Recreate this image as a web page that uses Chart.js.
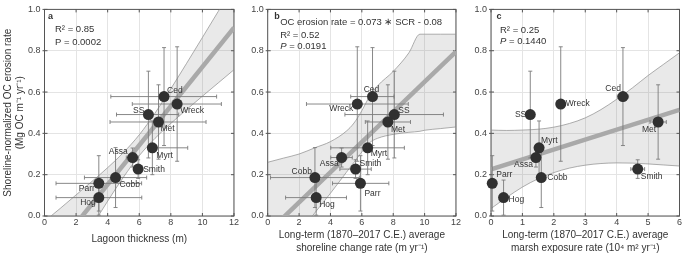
<!DOCTYPE html>
<html>
<head>
<meta charset="utf-8">
<script src="https://cdn.jsdelivr.net/npm/chart.js@4.4.0/dist/chart.umd.min.js"></script>
<style>
	body { margin: 0; background: #fff; }
	#wrap { position: relative; width: 685px; height: 255px; }
	canvas { position: absolute; top: 0; }
</style>
</head>
<body>
<div id="wrap">
	<canvas id="cntx_a" width="240" height="255" style="left:0px"></canvas>
	<canvas id="cntx_b" width="222" height="255" style="left:240px"></canvas>
	<canvas id="cntx_c" width="223" height="255" style="left:462px"></canvas>
</div>
<script>
// sites and shoreline-normalized OC erosion rate (same y in all panels)
const sites = ["Ced", "Wreck", "SS", "Met", "Myrt", "Assa", "Smith", "Cobb", "Parr", "Hog"];
const ocRate = [0.578, 0.542, 0.491, 0.455, 0.330, 0.283, 0.227, 0.186, 0.158, 0.089];
const ocErr = [0.237, 0.277, 0.210, 0.180, 0.130, 0.046, 0.045, 0.145, 0.134, 0.085];

// panel a: lagoon thickness
const lagoonThick = [7.57, 8.40, 6.58, 7.22, 6.83, 5.58, 5.93, 4.50, 3.44, 3.44];
const lagoonLo = [4.20, 5.56, 4.56, 4.15, 6.58, 5.18, 5.65, 2.53, 0.73, 0.73];
const lagoonHi = [10.90, 11.20, 8.50, 10.23, 9.07, 5.95, 6.20, 6.47, 6.15, 6.16];
const fitA_x = [0, 12];
const fitA_y = [-0.227, 0.912];
const bandA_x = [0, 1, 2, 3, 4, 5, 6, 7, 8, 9, 10, 11, 12];
const bandA_hi = [-0.026, 0.037, 0.102, 0.167, 0.234, 0.307, 0.393, 0.498, 0.616, 0.739, 0.864, 0.990, 1.116];
const bandA_lo = [-0.428, -0.301, -0.176, -0.051, 0.072, 0.188, 0.292, 0.376, 0.448, 0.515, 0.580, 0.644, 0.708];

// panel b: shoreline change rate
const shoreRate = [6.68, 5.71, 8.07, 7.66, 6.37, 4.71, 5.60, 3.01, 5.91, 3.09];
const shoreLo = [5.29, 2.47, 4.92, 6.22, 4.02, 4.02, 4.60, 0.18, 4.13, 1.14];
const shoreHi = [8.05, 8.96, 11.20, 9.10, 8.71, 5.39, 6.60, 5.84, 7.72, 5.02];
const fitB_x = [0, 12];
const fitB_y = [-0.08, 0.796];
const bandB_x = [0, 1, 2, 3, 4, 5, 5.5, 6, 6.5, 7, 8, 9, 9.7, 10, 11, 12];
const bandB_hi = [0.26, 0.28, 0.30, 0.33, 0.36, 0.41, 0.45, 0.51, 0.58, 0.63, 0.70, 0.79, 0.88, 0.88, 0.88, 0.88];
const bandB_lo = [-0.28, -0.18, -0.08, 0.015, 0.11, 0.21, 0.26, 0.31, 0.355, 0.376, 0.395, 0.405, 0.41, 0.415, 0.423, 0.431];

// panel c: marsh exposure rate
const marshRate = [4.20, 2.22, 1.25, 5.32, 1.53, 1.43, 4.67, 1.60, 0.04, 0.40];
const marshLo = [4.02, 2.22, 1.25, 5.06, 1.53, 1.43, 4.45, 1.60, 0.04, 0.40];
const marshHi = [4.38, 2.22, 1.25, 5.58, 1.53, 1.43, 4.89, 1.60, 0.04, 0.40];
const fitC_x = [0, 6];
const fitC_y = [0.226, 0.514];
const bandC_x = [0, 0.5, 1, 1.5, 2, 2.5, 3, 3.5, 4, 4.5, 5, 5.5, 6];
const bandC_hi = [0.416, 0.414, 0.416, 0.420, 0.430, 0.448, 0.475, 0.515, 0.565, 0.620, 0.680, 0.735, 0.790];
const bandC_lo = [0.036, 0.090, 0.140, 0.180, 0.210, 0.232, 0.246, 0.254, 0.257, 0.256, 0.252, 0.247, 0.242];

const FONT = "'Liberation Sans', Arial, sans-serif";
const TXT = "#333";

const zip = (xs, ys) => xs.map((v, i) => ({ x: v, y: ys[i] }));

// frame, inward ticks, error bars, site labels and text notes
const makeExtras = (p) => ({
	id: "extras_" + p.letter,
	beforeDatasetsDraw(chart) {
		const { ctx, chartArea: ca, scales } = chart;
		ctx.save();
		ctx.strokeStyle = "#555";
		ctx.lineWidth = 1;
		ctx.strokeRect(ca.left, ca.top, ca.right - ca.left, ca.bottom - ca.top);
		ctx.beginPath();
		scales.x.ticks.forEach((t) => {
			const px = scales.x.getPixelForValue(t.value);
			ctx.moveTo(px, ca.top); ctx.lineTo(px, ca.top + 3);
			ctx.moveTo(px, ca.bottom); ctx.lineTo(px, ca.bottom - 3);
		});
		scales.y.ticks.forEach((t) => {
			const py = scales.y.getPixelForValue(t.value);
			ctx.moveTo(ca.left - 2, py); ctx.lineTo(ca.left + 3, py);
			ctx.moveTo(ca.right, py); ctx.lineTo(ca.right - 3, py);
		});
		ctx.stroke();
		ctx.restore();
	},
	beforeDatasetDraw(chart, args) {
		if (args.index !== 0) return;
		const { ctx, scales: { x, y } } = chart;
		ctx.save();
		ctx.strokeStyle = "#7a7a7a";
		ctx.lineWidth = 0.9;
		ctx.beginPath();
		p.xs.forEach((xv, i) => {
			const px = x.getPixelForValue(xv);
			const py = y.getPixelForValue(ocRate[i]);
			const y1 = y.getPixelForValue(ocRate[i] + ocErr[i]);
			const y2 = y.getPixelForValue(ocRate[i] - ocErr[i]);
			ctx.moveTo(px, y1); ctx.lineTo(px, y2);
			ctx.moveTo(px - 2, y1); ctx.lineTo(px + 2, y1);
			ctx.moveTo(px - 2, y2); ctx.lineTo(px + 2, y2);
			if (p.lo[i] !== p.hi[i]) {
				const x1 = x.getPixelForValue(p.lo[i]);
				const x2 = x.getPixelForValue(p.hi[i]);
				ctx.moveTo(x1, py); ctx.lineTo(x2, py);
				ctx.moveTo(x1, py - 2); ctx.lineTo(x1, py + 2);
				ctx.moveTo(x2, py - 2); ctx.lineTo(x2, py + 2);
			}
		});
		ctx.stroke();
		ctx.restore();
	},
	afterDatasetsDraw(chart) {
		const { ctx, chartArea: ca, scales: { x, y } } = chart;
		ctx.save();
		ctx.fillStyle = TXT;
		ctx.textBaseline = "middle";
		ctx.font = "8.5px " + FONT;
		p.xs.forEach((xv, i) => {
			const lp = p.labelPos[i];
			ctx.textAlign = lp[0];
			ctx.fillText(sites[i], x.getPixelForValue(xv) + lp[1], y.getPixelForValue(ocRate[i]) + lp[2]);
		});
		ctx.textAlign = "left";
		ctx.font = "bold 9px " + FONT;
		ctx.fillText(p.letter, ca.left + p.letterPos[0], ca.top + p.letterPos[1]);
		p.notes.forEach((n) => {
			let cx = ca.left + n.x;
			n.parts.forEach((part) => {
				ctx.font = (part[1] ? "italic " : "") + "9.5px " + FONT;
				ctx.fillText(part[0], cx, ca.top + n.y);
				cx += ctx.measureText(part[0]).width;
			});
		});
		ctx.restore();
	},
});

const drawPanel = (canvas, p) => {
	const tickFont = { family: FONT, size: 9 };
	new Chart(canvas, {
		type: "scatter",
		data: {
			datasets: [
				{
					data: zip(p.xs, ocRate),
					backgroundColor: "#303030",
					borderColor: "#303030",
					pointRadius: 5.5,
					borderWidth: 0,
					clip: false,
					order: 0,
				},
				{
					type: "line",
					data: zip(p.fitX, p.fitY),
					borderColor: "#a9a9a9",
					borderWidth: 4.5,
					pointRadius: 0,
					fill: false,
					clip: 0,
					order: 1,
				},
				{
					type: "line",
					data: zip(p.bandX, p.bandHi),
					borderColor: "#8c8c8c",
					borderWidth: 0.7,
					pointRadius: 0,
					cubicInterpolationMode: "monotone",
					fill: false,
					clip: 0,
					order: 2,
				},
				{
					type: "line",
					data: zip(p.bandX, p.bandLo),
					borderColor: "#8c8c8c",
					borderWidth: 0.7,
					pointRadius: 0,
					cubicInterpolationMode: "monotone",
					fill: "-1",
					backgroundColor: "rgba(120,120,120,0.16)",
					clip: 0,
					order: 3,
				},
			],
		},
		options: {
			responsive: false,
			animation: false,
			events: [],
			layout: { padding: { top: 5, right: p.padRight, left: 0, bottom: 0 } },
			plugins: { legend: { display: false }, tooltip: { enabled: false } },
			scales: {
				x: {
					type: "linear",
					min: 0,
					max: p.xMax,
					afterFit: (s) => { s.height = 39; },
					grid: { color: "#e4e4e4", drawTicks: false },
					border: { display: false },
					ticks: { stepSize: p.xStep, padding: 1, color: "#444", font: tickFont, maxRotation: 0 },
					title: {
						display: true,
						text: p.xTitle,
						color: TXT,
						font: { family: FONT, size: 10, lineHeight: 1.3 },
						padding: { top: 0, bottom: p.xTitlePad },
					},
				},
				y: {
					min: 0,
					max: 1,
					afterFit: (s) => { s.width = p.yWidth; },
					grid: { color: "#e4e4e4", drawTicks: false },
					border: { display: false },
					ticks: { stepSize: 0.2, padding: 4, color: "#444", font: tickFont, callback: (v) => v.toFixed(1) },
					title: {
						display: !!p.yTitle,
						text: p.yTitle,
						color: TXT,
						font: { family: FONT, size: 10, lineHeight: 1.2 },
						padding: { top: 2, bottom: 0 },
					},
				},
			},
		},
		plugins: [makeExtras(p)],
	});
};

drawPanel(document.querySelector("#cntx_a"), {
	letter: "a",
	xs: lagoonThick, lo: lagoonLo, hi: lagoonHi,
	fitX: fitA_x, fitY: fitA_y,
	bandX: bandA_x, bandHi: bandA_hi, bandLo: bandA_lo,
	xMax: 12, xStep: 2, yWidth: 44.5, padRight: 3,
	xTitle: "Lagoon thickness (m)", xTitlePad: 9.5,
	yTitle: ["Shoreline-normalized OC erosion rate", "(Mg OC m\u207B\u00B9 yr\u207B\u00B9)"],
	letterPos: [3.5, 7],
	notes: [
		{ x: 10.5, y: 20, parts: [["R\u00B2 = 0.85", false]] },
		{ x: 10.5, y: 33, parts: [["P = 0.0002", false]] },
	],
	labelPos: [["left", 3, -6], ["left", 3, 7], ["right", -4, -4], ["left", 2, 7], ["left", 4, 8],
		["right", -5, -6], ["left", 5, 1], ["left", 4, 7], ["right", -4, 5], ["right", -3, 5]],
});

drawPanel(document.querySelector("#cntx_b"), {
	letter: "b",
	xs: shoreRate, lo: shoreLo, hi: shoreHi,
	fitX: fitB_x, fitY: fitB_y,
	bandX: bandB_x, bandHi: bandB_hi, bandLo: bandB_lo,
	xMax: 12, xStep: 2, yWidth: 27.7, padRight: 4,
	xTitle: ["Long-term (1870\u20132017 C.E.) average", "shoreline change rate (m yr\u207B\u00B9)"], xTitlePad: 0.5,
	yTitle: null,
	letterPos: [6.5, 7],
	notes: [
		{ x: 12.5, y: 13, parts: [["OC erosion rate = 0.073 \u2217 SCR - 0.08", false]] },
		{ x: 12.5, y: 25.5, parts: [["R\u00B2 = 0.52", false]] },
		{ x: 12.5, y: 36.5, parts: [["P", true], [" = 0.0191", false]] },
	],
	labelPos: [["center", -1, -7], ["right", -4, 5], ["left", 4, -4], ["left", 3, 8], ["left", 3, 6],
		["right", -3, 6], ["left", 4, -5], ["right", -3, -6], ["left", 4, 10], ["left", 3, 7]],
});

drawPanel(document.querySelector("#cntx_c"), {
	letter: "c",
	xs: marshRate, lo: marshLo, hi: marshHi,
	fitX: fitC_x, fitY: fitC_y,
	bandX: bandC_x, bandHi: bandC_hi, bandLo: bandC_lo,
	xMax: 6, xStep: 1, yWidth: 29, padRight: 2,
	xTitle: ["Long-term (1870\u20132017 C.E.) average", "marsh exposure rate (10\u2074 m\u00B2 yr\u207B\u00B9)"], xTitlePad: 0.5,
	yTitle: null,
	letterPos: [5.5, 7],
	notes: [
		{ x: 9, y: 21, parts: [["R\u00B2 = 0.25", false]] },
		{ x: 9, y: 32, parts: [["P", true], [" = 0.1440", false]] },
	],
	labelPos: [["right", -2, -8], ["left", 5, 0], ["right", -4, 0], ["right", -2, 8], ["left", 2, -7],
		["right", -3, 7], ["left", 3, 8], ["left", 6, 0], ["left", 4, -9], ["left", 5, 2]],
});
</script>
</body>
</html>
